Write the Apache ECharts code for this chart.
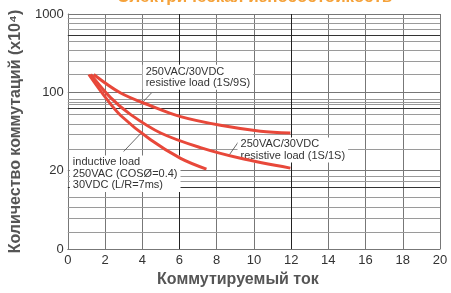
<!DOCTYPE html>
<html>
<head>
<meta charset="utf-8">
<script src="https://cdn.jsdelivr.net/npm/echarts@6/dist/echarts.min.js"></script>
<style>html,body{margin:0;padding:0;background:#fff;}#c{width:451px;height:293px;}</style>
</head>
<body>
<div id="c"></div>
<script>
// ---- data ----
const xUpper = [1.39, 2.84, 4.45, 6.06, 8.2, 10.35, 11.96];
const yUpper = [169, 98, 67.5, 49, 38, 32, 30.3];
const xMiddle = [1.23, 2.31, 3.38, 4.99, 7.13, 9.28, 11.96];
const yMiddle = [169, 85, 52, 30.3, 19.7, 14.4, 10.8];
const xInductive = [1.13, 2.04, 2.84, 4.45, 6.06, 7.45];
const yInductive = [169, 85, 50.7, 24.8, 14.4, 10.5];

const xTickValues = [0, 2, 4, 6, 8, 10, 12, 14, 16, 18, 20];
const yTickValues = [1, 10, 100, 1000];
const yTickLabels = ['0', '20', '100', '1000'];

const minorGridValues = [892, 773, 632, 448, 346, 253, 169, 82.6, 75.9, 69.6, 52.4, 39.2, 29.4, 18.6, 8.58, 7.43, 4.57, 3.43, 2.5, 1.63];
const darkGridValues = [532, 62.2, 6.08];
const darkVGridValues = [6, 12];

const annotationTexts = [
  '250VAC/30VDC\nresistive load (1S/9S)',
  '250VAC/30VDC\nresistive load (1S/1S)',
  'inductive load\n250VAC (COSØ=0.4)\n30VDC (L/R=7ms)'
];
const annotationAnchors = [[4.02, 225], [9.12, 26.6], [0.11, 15.7]];
const leaderLines = [
  [[4.49, 98.1], [3.91, 70.2]],
  [[9.28, 25.5], [8.69, 16.1]],
  [[3.0, 17.6], [3.91, 29.7]]
];

const titleText = 'Электрическая износостойкость';
const xName = 'Коммутируемый ток';
const yName = 'Количество коммутаций (x10⁴)';

// ---- chart ----
const zip = (xs, ys) => xs.map((x, i) => [x, ys[i]]);
const curveColor = '#e8483a';
const font = 'Liberation Sans, Arial, sans-serif';

const chart = echarts.init(document.getElementById('c'), null, { renderer: 'canvas' });

const gridLineData = minorGridValues.map(v => ({ yAxis: v, lineStyle: { color: '#9a9a9a', width: 1, type: 'solid' } }))
  .concat(darkGridValues.map(v => ({ yAxis: v, lineStyle: { color: '#333', width: 1, type: 'solid' } })))
  .concat(darkVGridValues.map(v => ({ xAxis: v, lineStyle: { color: '#222', width: 1, type: 'solid' } })));

const curveSeries = (data) => ({
  type: 'line', data: data, smooth: 0.35, showSymbol: false, z: 6,
  lineStyle: { color: curveColor, width: 3 }, silent: true, animation: false
});

chart.setOption({
  animation: false,
  graphic: [{
    type: 'text', x: 255, y: -11,
    style: { text: titleText, fill: '#f5a23a', font: 'bold 17px ' + font, textAlign: 'center', textVerticalAlign: 'top' }
  }],
  grid: { left: 67, right: 11, top: 14, bottom: 38 },
  xAxis: {
    type: 'value', min: 0, max: 20, interval: 2,
    name: xName, nameLocation: 'middle', nameGap: 21,
    nameTextStyle: { fontFamily: font, fontWeight: 'bold', fontSize: 16, color: '#555', padding: [0, 32, 0, 0] },
    axisLine: { show: true, lineStyle: { color: '#777', width: 1 } },
    axisTick: { show: false },
    axisLabel: { fontFamily: font, fontSize: 13, color: '#333', margin: 5,
      formatter: v => xTickValues.includes(v) ? String(v) : '' },
    splitLine: { show: true, lineStyle: { color: '#777', width: 1 } }
  },
  yAxis: {
    type: 'log', logBase: 10, min: 1, max: 1000,
    name: yName, nameLocation: 'middle', nameGap: 41, nameRotate: 90,
    nameTextStyle: { fontFamily: font, fontWeight: 'bold', fontSize: 16, color: '#555' },
    axisLine: { show: true, lineStyle: { color: '#777', width: 1 } },
    axisTick: { show: false },
    axisLabel: { fontFamily: font, fontSize: 13, color: '#333', margin: 4,
      formatter: v => { const i = yTickValues.indexOf(Math.round(v)); return i >= 0 ? yTickLabels[i] : ''; } },
    splitLine: { show: true, lineStyle: { color: '#777', width: 1 } }
  },
  series: [
    {
      type: 'line', data: [], z: 1, silent: true,
      markLine: { silent: true, symbol: 'none', label: { show: false }, animation: false, data: gridLineData }
    },
    curveSeries(zip(xUpper, yUpper)),
    curveSeries(zip(xMiddle, yMiddle)),
    curveSeries(zip(xInductive, yInductive)),
    {
      type: 'line', data: [], z: 5, silent: true,
      markLine: {
        silent: true, symbol: 'none', label: { show: false }, animation: false,
        lineStyle: { color: '#444', width: 0.8, type: 'solid' },
        data: leaderLines.map(p => [{ coord: p[0] }, { coord: p[1] }])
      },
      markPoint: {
        silent: true, animation: false,
        data: annotationAnchors.map((c, i) => ({
          coord: c, symbol: 'rect', symbolSize: 0,
          label: {
            show: true, position: [0, 0], align: 'left', verticalAlign: 'top',
            formatter: annotationTexts[i],
            fontFamily: font, fontSize: 11, lineHeight: 11.5, color: '#333',
            backgroundColor: '#fff', padding: [1, 3, 1, 3]
          }
        }))
      }
    }
  ]
});
</script>
</body>
</html>
